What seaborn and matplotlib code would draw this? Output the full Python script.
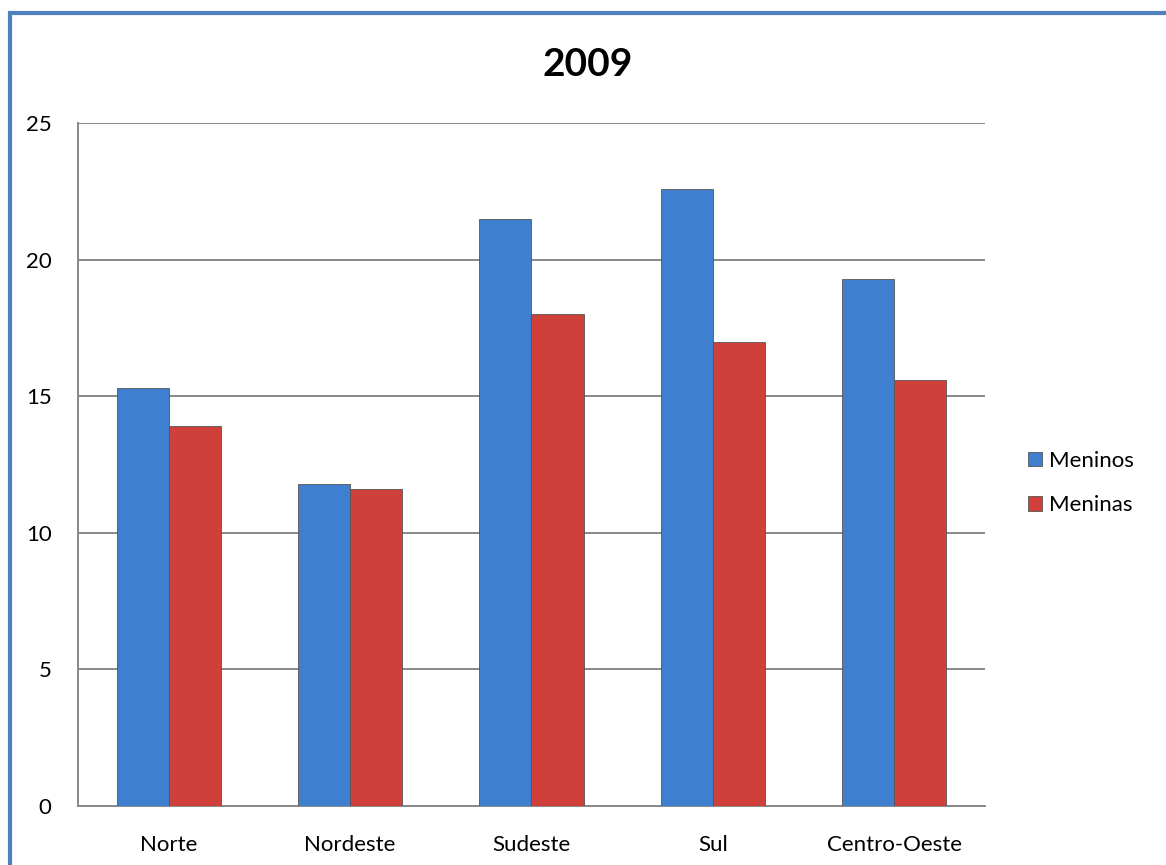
import pandas as pd
import matplotlib.pyplot as plt
import seaborn as sns
from matplotlib.patches import Rectangle

regions = ["Norte", "Nordeste", "Sudeste", "Sul", "Centro-Oeste"]
meninos = [15.3, 11.8, 21.5, 22.6, 19.3]
meninas = [13.9, 11.6, 18.0, 17.0, 15.6]
series = ["Meninos", "Meninas"]
colors = ["#3F7FCF", "#D0403A"]
yticks = [0, 5, 10, 15, 20, 25]

df = pd.DataFrame({
    "regiao": regions * 2,
    "valor": meninos + meninas,
    "sexo": ["Meninos"] * len(regions) + ["Meninas"] * len(regions),
})

sns.set_theme(style="white")
plt.rcParams["font.family"] = ["Lato", "DejaVu Sans"]
plt.rcParams["text.color"] = "black"

fig = plt.figure(figsize=(11.66, 8.65), dpi=100)
ax = fig.add_axes([78 / 1166, 1 - 806 / 865, (985 - 78) / 1166, (806 - 123) / 865])

sns.barplot(data=df, x="regiao", y="valor", hue="sexo", hue_order=series,
            palette=colors, width=0.575, saturation=1, ax=ax,
            edgecolor="#555555", linewidth=0.6, zorder=3)

ax.set_ylim(0, 25)
ax.set_yticks(yticks)
ax.set_xlim(-0.5, len(regions) - 0.5)
ax.yaxis.grid(True, color="#888888", linewidth=1.4, zorder=0)
ax.set_axisbelow(True)
for s in ["top", "right"]:
    ax.spines[s].set_visible(False)
for s in ["left", "bottom"]:
    ax.spines[s].set_color("#888888")
    ax.spines[s].set_linewidth(1.4)
ax.tick_params(axis="both", length=0, labelsize=16, colors="black")
ax.tick_params(axis="y", pad=19)
ax.tick_params(axis="x", pad=21)
ax.set_xlabel("")
ax.set_ylabel("")

ax.legend(loc="center left", bbox_to_anchor=(1008 / 1166, 1 - 483 / 865),
          bbox_transform=fig.transFigure, frameon=False, fontsize=16,
          handlelength=0.65, handleheight=0.65, handletextpad=0.3,
          labelspacing=1.1)

fig.text(588 / 1166, 1 - 65 / 865, "2009", ha="center", va="center",
         fontsize=28, fontweight="bold", color="black")

# blue frame around the chart
fig.patches.append(Rectangle((10 / 1166, -0.05), 1.2, 1 - 13 / 865 + 0.05,
                             transform=fig.transFigure, fill=False,
                             edgecolor="#4F81BD", linewidth=3))

fig.savefig("out.png", dpi=100)
